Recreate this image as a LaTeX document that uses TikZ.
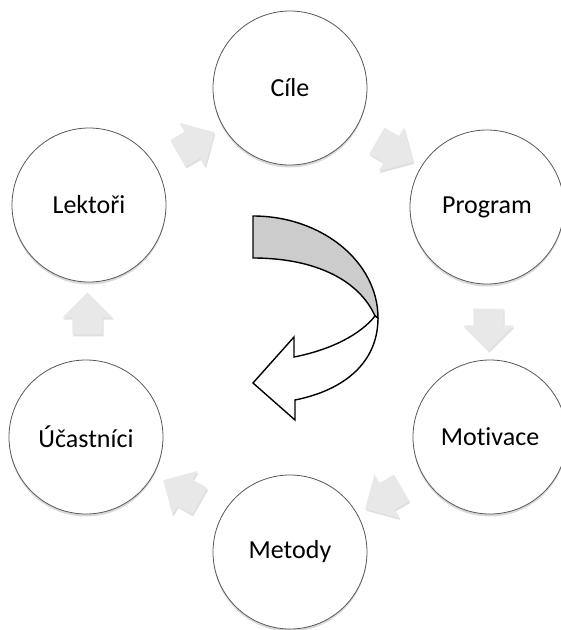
\documentclass[tikz,border=0pt]{standalone}
\usepackage{fontspec}
\setmainfont{Carlito}[Ligatures=NoCommon]
\usetikzlibrary{calc,shapes.arrows,shadows}

\begin{document}
\begin{tikzpicture}[x=1pt,y=-1pt,
    stage/.style={circle, draw=gray!70!black, line width=0.8pt, fill=white,
      minimum size=154pt, inner sep=0pt, font=\fontsize{26}{30}\selectfont,
      drop shadow={opacity=0.3, shadow xshift=0pt, shadow yshift=-2.5pt}},
    steparrow/.style={single arrow, draw=none, fill=gray!18, inner xsep=0pt,
      inner ysep=15pt, minimum width=50pt, minimum height=42pt,
      single arrow head extend=10pt,
      drop shadow={opacity=0.25, shadow xshift=1pt, shadow yshift=-2pt}},
    bigarrow/.style={draw=black, line width=1.4pt, line join=miter}]
  \useasboundingbox (0,0) rectangle (561,630);

  % the six stages round the cycle
  \node[stage] (cile)      at (290,88)  {Cíle};
  \node[stage] (program)   at (487,207) {Program};
  \node[stage] (motivace)  at (490,437) {Motivace};
  \node[stage] (metody)    at (290,552) {Metody};
  \node[stage] (ucastnici) at (86,437)  {Účastníci};
  \node[stage] (lektori)   at (89,205)  {Lektoři};

  % small arrows between them
  \node[steparrow, rotate=30]  (a1) at ($(lektori)!0.5!(cile)$) {};
  \node[steparrow, rotate=-30] (a2) at ($(cile)!0.5!(program)$) {};
  \node[steparrow, rotate=-90] (a3) at ($(program)!0.5!(motivace)$) {};
  \node[steparrow, rotate=210] (a4) at ($(motivace)!0.5!(metody)$) {};
  \node[steparrow, rotate=150] (a5) at ($(metody)!0.5!(ucastnici)$) {};
  \node[steparrow, rotate=90]  (a6) at ($(ucastnici)!0.5!(lektori)$) {};

  % curved arrow in the middle
  \filldraw[bigarrow, fill=gray!40] (253,216) .. controls (322,216) and (378,262) .. (378,318)
    -- (375,316) .. controls (360,282) and (318,258) .. (253,258) -- cycle;
  \filldraw[bigarrow, fill=white] (378,318) .. controls (378,362) and (345,390) .. (295,400)
    -- (295,420) -- (253,383) -- (294,337) -- (294,357)
    .. controls (330,350) and (360,335) .. (375,316) -- cycle;
\end{tikzpicture}
\end{document}
